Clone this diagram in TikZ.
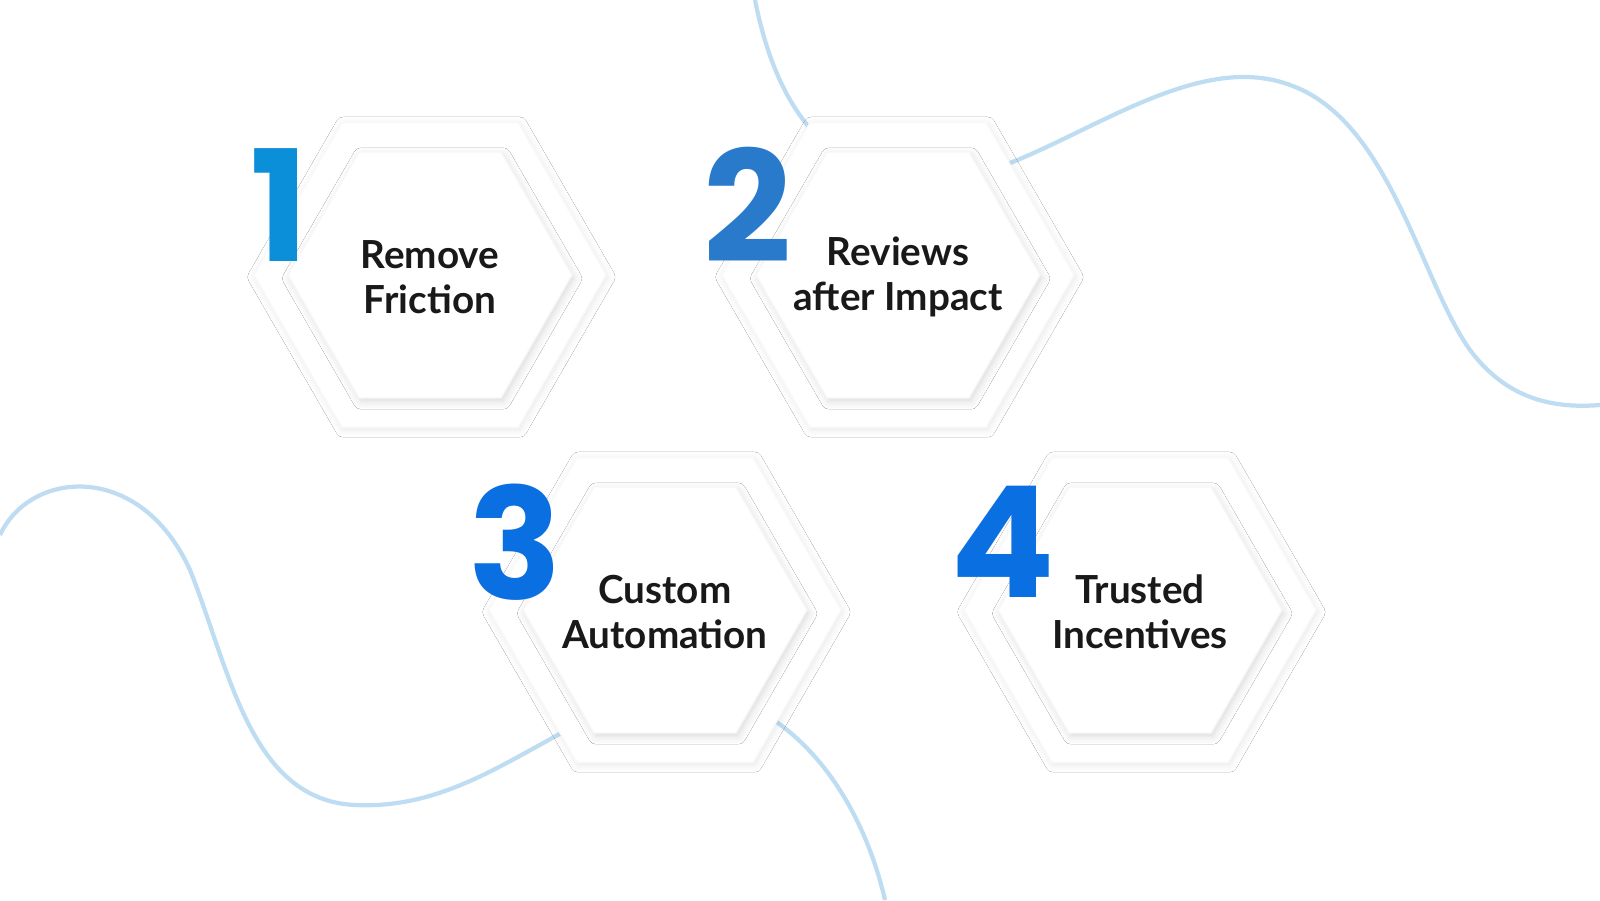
\documentclass[tikz,border=0pt]{standalone}
\usepackage{fontspec}
\setmainfont{Poppins}
\newfontfamily\labelfont{Lato}
\usetikzlibrary{shapes.geometric,shadows.blur}
\definecolor{wave}{HTML}{BFDDF2}
\definecolor{numA}{HTML}{0A8FD8}
\definecolor{numB}{HTML}{2A7ACC}
\definecolor{numC}{HTML}{0A6FE0}
\tikzset{
  outerhex/.style={regular polygon, regular polygon sides=6, minimum size=3.52cm, inner sep=0pt,
    fill=white, draw=gray!5, blur shadow={shadow blur steps=6, shadow xshift=0.4pt, shadow yshift=-0.6pt, shadow opacity=10}},
  innerhex/.style={regular polygon, regular polygon sides=6, minimum size=2.84cm, inner sep=0pt,
    fill=white, draw=gray!6, blur shadow={shadow blur steps=6, shadow xshift=0.6pt, shadow yshift=-1pt, shadow opacity=15}},
  label/.style={align=center, font=\labelfont\fontsize{11}{12.8}\selectfont\bfseries, text=black!90},
  num/.style={font=\fontsize{44}{44}\selectfont\bfseries}
}
\begin{document}
\begin{tikzpicture}
\useasboundingbox[fill=white] (0,0) rectangle (16,9);
% background waves
\draw[wave, line width=1.2pt] (7.55,9) .. controls (7.75,8) and (8.2,7.3) .. (9.1,7.2)
  .. controls (10.2,7) and (11.7,8.6) .. (12.9,8.15)
  .. controls (13.9,7.8) and (14.2,6.2) .. (14.7,5.5)
  .. controls (15,5.1) and (15.4,4.9) .. (16,4.95);
\draw[wave, line width=1.2pt] (0,3.65) .. controls (0.3,4.3) and (1.4,4.4) .. (1.9,3.3)
  .. controls (2.3,2.3) and (2.5,1) .. (3.55,0.95)
  .. controls (4.6,0.9) and (5.3,1.6) .. (6.3,2)
  .. controls (7.4,2.4) and (8.5,1.5) .. (8.85,0);
% hexagons
\foreach \n/\x/\y in {h1/4.3/6.25, h2/8.98/6.25, h3/6.65/2.9, h4/11.4/2.9}{
  \node[outerhex] (\n out) at (\x,\y) {};
  \node[innerhex] (\n) at (\x,\y) {};
}
% labels
\node[label] at ([yshift=-0.02cm]h1) {Remove\\Friction};
\node[label] at ([yshift=-0.02cm]h2) {Reviews\\after Impact};
\node[label] at ([yshift=-0.02cm]h3) {Custom\\Automation};
\node[label] at ([yshift=-0.02cm]h4) {Trusted\\Incentives};
% numbers
\node[num, text=numA] (n1) at (2.8,6.95) {1};
\node[num, text=numB] (n2) at (7.48,6.95) {2};
\node[num, text=numC] (n3) at (5.15,3.58) {3};
\node[num, text=numC] (n4) at (10.03,3.58) {4};
\end{tikzpicture}
\end{document}
